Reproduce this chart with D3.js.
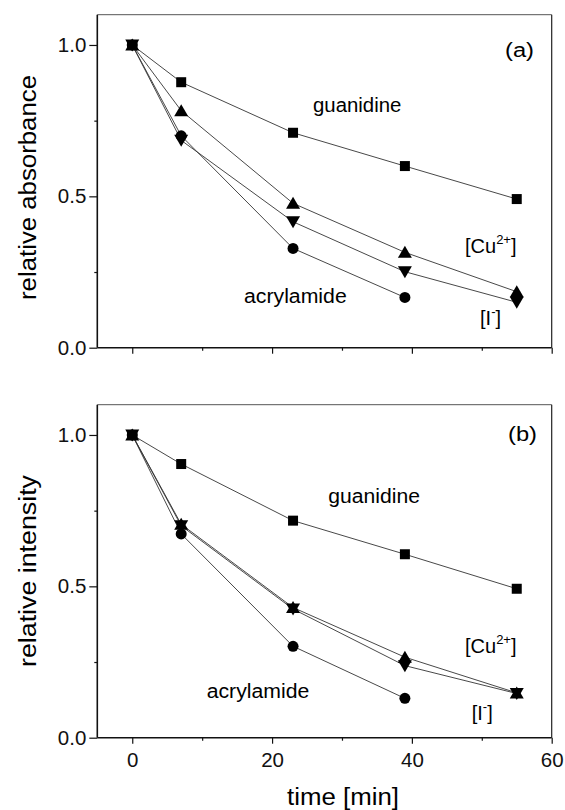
<!DOCTYPE html>
<html><head><meta charset="utf-8">
<script src="https://cdn.jsdelivr.net/npm/d3@7"></script>
<style>
html,body{margin:0;padding:0;background:#fff;}
svg{display:block;font-family:"Liberation Sans",Arial,Helvetica,sans-serif;}
</style></head>
<body><svg id="chart" width="565" height="810"></svg>
<script>
// ---- data ----
const times = [0, 7, 23, 39, 55];
const timesAcryl = [0, 7, 23, 39];
// panel (a): relative absorbance
const absGuanidine = [1.0, 0.877, 0.710, 0.600, 0.491];
const absCu = [1.0, 0.783, 0.477, 0.315, 0.185];
const absI = [1.0, 0.685, 0.416, 0.251, 0.150];
const absAcrylamide = [1.0, 0.700, 0.328, 0.166];
// panel (b): relative intensity
const intGuanidine = [1.0, 0.904, 0.717, 0.606, 0.492];
const intCu = [1.0, 0.705, 0.430, 0.266, 0.148];
const intI = [1.0, 0.700, 0.425, 0.238, 0.146];
const intAcrylamide = [1.0, 0.673, 0.302, 0.130];
const xTicks = [0, 20, 40, 60];
const xMinorTicks = [10, 30, 50];
const yTicks = [0.0, 0.5, 1.0];
const yMinorTicks = [0.25, 0.75];
const yTickLabels = ["0.0", "0.5", "1.0"];

const svg = d3.select("#chart");
const x = d3.scaleLinear().domain([-5, 60]).range([97.3, 551.7]);

const sym = {
  square: "M-5,-5h10v10h-10Z",
  up: "M0,-6.5L7,5.5L-7,5.5Z",
  down: "M0,6.5L7,-5.5L-7,-5.5Z",
  circle: d3.symbol(d3.symbolCircle, Math.PI * 5.5 * 5.5)()
};

const panels = [
  {top: 14.7, bottom: 347.7, xLabels: false, yTitle: "relative absorbance", yTitleLen: 225, yTitleY: 187.5, tag: "(a)", tagPos: [505, 57],
   series: [
     {t: times, v: absGuanidine, s: "square"},
     {t: times, v: absCu, s: "up"},
     {t: times, v: absI, s: "down"},
     {t: timesAcryl, v: absAcrylamide, s: "circle"}
   ],
   notes: {guan: [313, 111.7, 88.4], cu: [465, 253], acryl: [244, 302.7, 102.7], i: [480, 325]}},
  {top: 404.7, bottom: 737.7, xLabels: true, yTitle: "relative intensity", yTitleLen: 192, yTitleY: 571, tag: "(b)", tagPos: [508, 441],
   series: [
     {t: times, v: intGuanidine, s: "square"},
     {t: times, v: intCu, s: "up"},
     {t: times, v: intI, s: "down"},
     {t: timesAcryl, v: intAcrylamide, s: "circle"}
   ],
   notes: {guan: [328.3, 503.3, 91.7], cu: [465, 653.3], acryl: [206.7, 698.3, 102.6], i: [471.7, 720]}}
];

panels.forEach(p => {
  const y = d3.scaleLinear().domain([0, 1.1]).range([p.bottom, p.top]);
  const g = svg.append("g");
  // frame
  g.append("line").attr("x1", x.range()[0]).attr("x2", x.range()[1]).attr("y1", p.top).attr("y2", p.top)
    .attr("stroke", "#555").attr("stroke-width", 1);
  g.append("line").attr("x1", x.range()[1]).attr("x2", x.range()[1]).attr("y1", p.top).attr("y2", p.bottom)
    .attr("stroke", "#222").attr("stroke-width", 1.2);
  // axes
  const xAxis = d3.axisBottom(x).tickValues(xTicks).tickSize(6).tickPadding(9)
    .tickFormat(p.xLabels ? d3.format("d") : () => "");
  const xa = g.append("g").attr("transform", `translate(0,${p.bottom})`).call(xAxis);
  xa.select(".domain").remove();
  xa.append("g").call(d3.axisBottom(x).tickValues(xMinorTicks).tickSize(3).tickFormat(() => "")).select(".domain").remove();
  const yAxis = d3.axisLeft(y).tickValues(yTicks).tickSize(8).tickPadding(3)
    .tickFormat((d, i) => yTickLabels[i]);
  const ya = g.append("g").attr("transform", `translate(${x.range()[0]},0)`).call(yAxis);
  ya.select(".domain").remove();
  ya.append("g").call(d3.axisLeft(y).tickValues(yMinorTicks).tickSize(3).tickFormat(() => "")).select(".domain").remove();
  g.selectAll(".tick line").attr("stroke", "#111").attr("stroke-width", 1.2);
  g.selectAll(".tick text").attr("font-size", 20.5).attr("fill", "#111")
    .attr("font-family", '"Liberation Sans",Arial,sans-serif');
  g.append("line").attr("x1", x.range()[0]).attr("x2", x.range()[1]).attr("y1", p.bottom).attr("y2", p.bottom)
    .attr("stroke", "#111").attr("stroke-width", 1.6);
  g.append("line").attr("x1", x.range()[0]).attr("x2", x.range()[0]).attr("y1", p.top).attr("y2", p.bottom)
    .attr("stroke", "#111").attr("stroke-width", 1.6);

  // lines
  const line = d3.line().x(d => x(d[0])).y(d => y(d[1]));
  p.series.forEach(s => {
    const pts = s.t.map((t, i) => [t, s.v[i]]);
    g.append("path").attr("d", line(pts)).attr("fill", "none").attr("stroke", "#333").attr("stroke-width", 0.9);
  });
  p.series.forEach(s => {
    g.selectAll(null).data(s.t.map((t, i) => [t, s.v[i]])).enter().append("path")
      .attr("d", sym[s.s]).attr("transform", d => `translate(${x(d[0])},${y(d[1])})`)
      .attr("fill", "#000");
  });

  // annotations
  const n = p.notes;
  g.append("text").attr("x", n.guan[0]).attr("y", n.guan[1]).attr("font-size", 20)
    .attr("textLength", n.guan[2]).attr("lengthAdjust", "spacingAndGlyphs").text("guanidine");
  g.append("text").attr("x", n.acryl[0]).attr("y", n.acryl[1]).attr("font-size", 20)
    .attr("textLength", n.acryl[2]).attr("lengthAdjust", "spacingAndGlyphs").text("acrylamide");
  const cu = g.append("text").attr("x", n.cu[0]).attr("y", n.cu[1]).attr("font-size", 20);
  cu.append("tspan").text("[Cu");
  cu.append("tspan").attr("font-size", 13).attr("dy", -9).text("2+");
  cu.append("tspan").attr("dy", 9).text("]");
  const io = g.append("text").attr("x", n.i[0]).attr("y", n.i[1]).attr("font-size", 20);
  io.append("tspan").text("[I");
  io.append("tspan").attr("font-size", 13).attr("dy", -9).text("-");
  io.append("tspan").attr("dy", 9).text("]");
  g.append("text").attr("x", p.tagPos[0]).attr("y", p.tagPos[1]).attr("font-size", 20)
    .attr("textLength", 29).attr("lengthAdjust", "spacingAndGlyphs").text(p.tag);
  // y title
  g.append("text").attr("transform", `translate(36,${p.yTitleY}) rotate(-90)`).attr("text-anchor", "middle")
    .attr("font-size", 23).attr("textLength", p.yTitleLen).attr("lengthAdjust", "spacingAndGlyphs").text(p.yTitle);
});

svg.append("text").attr("x", 343).attr("y", 805).attr("text-anchor", "middle").attr("font-size", 23)
  .attr("textLength", 112).attr("lengthAdjust", "spacingAndGlyphs").text("time [min]");
</script></body></html>
